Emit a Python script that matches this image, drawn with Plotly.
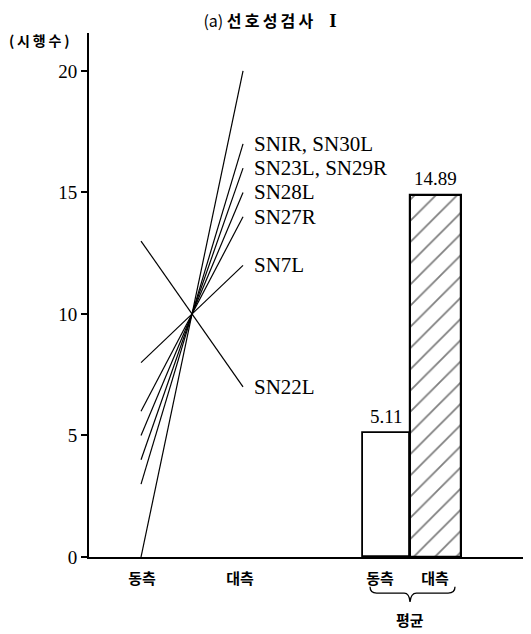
import plotly.graph_objects as go

# ---- data ----
sides = ["동측", "대측"]
ipsi_counts = [0, 3, 4, 5, 6, 8, 13]
contra_counts = [20, 17, 16, 15, 14, 12, 7]
subject_labels = ["", "SNIR, SN30L", "SN23L, SN29R", "SN28L", "SN27R", "SN7L", "SN22L"]
mean_labels = ["동측", "대측"]
mean_values = [5.11, 14.89]
y_ticks = [0, 5, 10, 15, 20]

KFONT = "Noto Sans CJK KR"
SERIF = "Liberation Serif"

# page body has an 8px margin, so the figure is 8px smaller than the window
W, H = 523, 626
ML, MR, MT, MB = 81, 0, 25, 77

fig = go.Figure()

line_x = [0, 1]
for a, b, name in zip(ipsi_counts, contra_counts, subject_labels):
    fig.add_trace(go.Scatter(x=line_x, y=[a, b], mode="lines",
                             line=dict(color="black", width=1.2),
                             showlegend=False, hoverinfo="skip"))
    if name:
        fig.add_annotation(x=1.085, y=b, text=name, showarrow=False,
                           xanchor="left", yanchor="middle",
                           font=dict(family=SERIF, size=21, color="black"))

bar_x = [2.407, 2.887]
bar_w = [0.461, 0.5]
fig.add_trace(go.Bar(x=[bar_x[0]], y=[mean_values[0]], width=[bar_w[0]],
                     marker=dict(color="white", line=dict(color="black", width=1.8)),
                     showlegend=False, hoverinfo="skip"))
fig.add_trace(go.Bar(x=[bar_x[1]], y=[mean_values[1]], width=[bar_w[1]],
                     marker=dict(color="white", line=dict(color="black", width=2.2),
                                 pattern=dict(shape="/", fgcolor="black", bgcolor="white",
                                              size=15, solidity=0.12)),
                     showlegend=False, hoverinfo="skip"))
for xv, v in zip(bar_x, mean_values):
    fig.add_annotation(x=xv, y=v, text=f"{v:.2f}", showarrow=False,
                       yanchor="bottom", yshift=4,
                       font=dict(family=SERIF, size=19, color="black"))

# brace under the mean bars
fig.add_shape(type="path", xref="x", yref="paper",
              path="M 2.245,-0.057 Q 2.245,-0.069 2.31,-0.069 L 2.58,-0.069 Q 2.63,-0.069 2.637,-0.086 "
                   "Q 2.645,-0.069 2.70,-0.069 L 3.01,-0.069 Q 3.078,-0.069 3.078,-0.057",
              line=dict(color="black", width=1.3))
fig.add_annotation(x=2.637, y=-0.12, xref="x", yref="paper", text="<b>평균</b>",
                   showarrow=False, yanchor="middle",
                   font=dict(family=KFONT, size=15, color="black"))

fig.update_layout(
    width=W, height=H,
    margin=dict(l=ML, r=MR, t=MT, b=MB, autoexpand=False),
    paper_bgcolor="white", plot_bgcolor="white",
    bargap=0, barmode="overlay",
    title=dict(text="(a) <b>선\u2009호\u2009성\u2009검\u2009사</b>\u2003<span style='font-family:Liberation Serif;font-size:19px'><b>I</b></span>",
               x=0.501, xanchor="center", xref="container", yref="container",
               y=1 - 13 / H, yanchor="middle",
               font=dict(family=KFONT, size=16, color="black")),
    xaxis=dict(range=[-0.51, 3.823], showgrid=False, zeroline=False, automargin=False,
               showline=True, linecolor="black", linewidth=2,
               tickmode="array", tickvals=[0.01, 0.97, 2.343, 2.882],
               ticktext=["<b>" + s + "</b>" for s in sides + mean_labels],
               ticks="", ticklabelstandoff=7,
               tickfont=dict(family=KFONT, size=15, color="black")),
    yaxis=dict(range=[0, 21.56], showgrid=False, zeroline=False, automargin=False,
               showline=True, linecolor="black", linewidth=2,
               tickmode="array", tickvals=y_ticks,
               ticks="outside", ticklen=6, tickwidth=1.5, tickcolor="black",
               tickfont=dict(family=SERIF, size=19, color="black")),
)
fig.add_annotation(xref="paper", yref="paper",
                   x=(7 - 8 - ML) / (W - ML - MR), y=(557 - 40) / (H - MT - MB),
                   xanchor="left", yanchor="middle",
                   text="<b>(\u2009시\u2009행\u2009수\u2009)</b>", showarrow=False,
                   font=dict(family=KFONT, size=14, color="black"))

fig.write_html("out.html")
